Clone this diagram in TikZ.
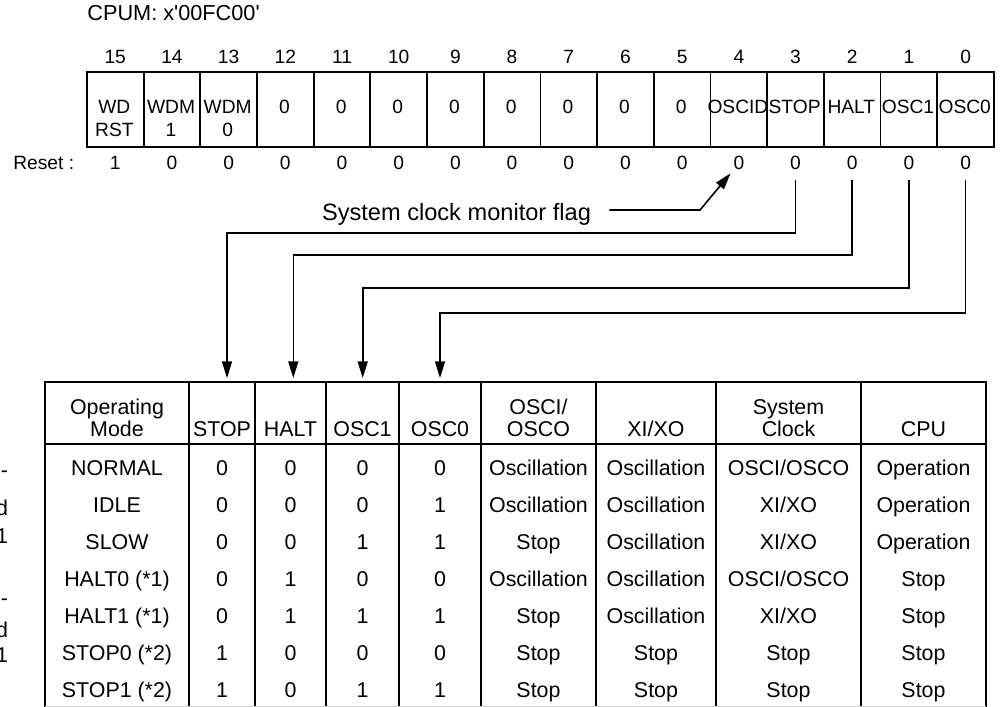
\documentclass[tikz,border=0pt]{standalone}
\usepackage{fontspec}
\setmainfont{Liberation Sans}
\usetikzlibrary{arrows.meta,positioning}
\tikzset{
  regcell/.style={draw,rectangle,line width=0.9pt,minimum width=28.35pt,minimum height=37.5pt,inner sep=0pt,anchor=north west},
  regtxt/.style={anchor=north,inner sep=0pt,align=center,font=\fontsize{9.6}{11.5}\selectfont},
  bitnum/.style={inner sep=0pt,font=\fontsize{9.6}{11.5}\selectfont},
  rstval/.style={inner sep=0pt,font=\fontsize{9.6}{11.5}\selectfont},
  hdr/.style={anchor=south,inner sep=0pt,align=center,font=\fontsize{10.7}{11}\selectfont},
  cell/.style={anchor=base,inner sep=0pt,font=\fontsize{10.7}{11}\selectfont},
  tline/.style={line width=0.9pt},
  arr/.style={-{Triangle[length=8.3pt,width=5pt]},line width=0.8pt},
  lbl/.style={inner sep=0pt,font=\fontsize{11.8}{14}\selectfont}
}

\begin{document}
\begin{tikzpicture}[x=0.5pt,y=-0.5pt]
  \useasboundingbox (0,0) rectangle (1002,707);
  % Register title
  \node[inner sep=0pt,anchor=base west,font=\fontsize{10.85}{13}\selectfont] (title) at (87,20.7) {CPUM: x\textquotesingle 00FC00\textquotesingle};

  % Register cells, bit numbers and reset values
  \foreach \lbl/\rv [count=\i from 0] in {{WD\\RST}/1,{WDM\\1}/0,{WDM\\0}/0,0/0,0/0,0/0,0/0,0/0,0/0,0/0,0/0,OSCID/0,STOP/0,HALT/0,OSC1/0,OSC0/0}
  {
    \pgfmathtruncatemacro\bit{15-\i}
    \node[regcell] (c\bit) at (86+56.69*\i,71) {};
    \node[regtxt] (t\bit) at (114.35+56.69*\i,100) {\lbl};
    \node[bitnum, above=3.35pt of c\bit] (n\bit) {\bit};
    \node[rstval, below=4pt of c\bit] (r\bit) {\rv};
  }
  \node[rstval, left=17.5pt of r15] (rstlbl) {Reset :};

  % Monitor flag
  \node[lbl, anchor=base] (flag) at (456.5,220) {System clock monitor flag};
  \coordinate (kink) at (700,210);
  \draw[arr, shorten <=9pt, shorten >=2pt] (flag.east |- kink) -- (kink) -- (r4.south west);

  % Control bits down to the table
  \coordinate (inSTOP) at (227,378);
  \coordinate (inHALT) at (293.3,378);
  \coordinate (inOSC1) at (362.7,378);
  \coordinate (inOSC0) at (440,378);
  \foreach \src/\dst/\dy in {r3/inSTOP/63, r2/inHALT/85, r1/inOSC1/118, r0/inOSC0/143}
    \draw[arr, shorten <=5pt] (\src.south) -- ++(0,\dy) -| (\dst);

  % Table frame
  \draw[tline] (45,707) -- (45,382) -- (986,382) -- (986,707);
  \draw[tline] (45,444) -- (986,444);
  \foreach \x in {189,255,326,399,481,596,716,861}
    \draw[tline] (\x,382) -- (\x,707);
  \draw[gray!35, line width=0.5pt] (45,706) -- (986,706);

  % Table header
  \foreach \x/\txt [count=\k] in {117/{Operating\\Mode}, 222/STOP, 290.5/HALT, 362.5/OSC1, 440/OSC0, 538.5/{OSCI/\\OSCO}, 656/{XI/XO}, 788.5/{System\\Clock}, 923.5/CPU}
    \node[hdr] (hd\k) at (\x,437) {\txt};

  % Table rows
  \foreach \vMode/\vStop/\vHalt/\vOa/\vOb/\vOsc/\vXi/\vClk/\vCpu [count=\r] in {
    NORMAL/0/0/0/0/Oscillation/Oscillation/{OSCI/OSCO}/Operation,
    IDLE/0/0/0/1/Oscillation/Oscillation/{XI/XO}/Operation,
    SLOW/0/0/1/1/Stop/Oscillation/{XI/XO}/Operation,
    {HALT0 (*1)}/0/1/0/0/Oscillation/Oscillation/{OSCI/OSCO}/Stop,
    {HALT1 (*1)}/0/1/1/1/Stop/Oscillation/{XI/XO}/Stop,
    {STOP0 (*2)}/1/0/0/0/Stop/Stop/Stop/Stop,
    {STOP1 (*2)}/1/0/1/1/Stop/Stop/Stop/Stop}
  {
    \pgfmathsetmacro\yb{475.6+37*(\r-1)}
    \node[cell] (mode\r) at (117,\yb) {\vMode};
    \node[cell] (stop\r) at (222,\yb) {\vStop};
    \node[cell] (halt\r) at (290.5,\yb) {\vHalt};
    \node[cell] (osca\r) at (362.5,\yb) {\vOa};
    \node[cell] (oscb\r) at (440,\yb) {\vOb};
    \node[cell] (osc\r) at (538.5,\yb) {\vOsc};
    \node[cell] (xio\r) at (656,\yb) {\vXi};
    \node[cell] (clk\r) at (788.5,\yb) {\vClk};
    \node[cell] (cpu\r) at (923.5,\yb) {\vCpu};
  }

  % Cut-off text at the left edge
  \node[cell, anchor=base east] (cut1) at (8.5,477) {-};
  \node[cell, anchor=base east] (cut2) at (8.5,515) {d};
  \node[cell, anchor=base east] (cut3) at (8.5,543) {1};
  \node[cell, anchor=base east] (cut4) at (8.5,605) {-};
  \node[cell, anchor=base east] (cut5) at (8.5,637) {d};
  \node[cell, anchor=base east] (cut6) at (8.5,662) {1};
\end{tikzpicture}
\end{document}
